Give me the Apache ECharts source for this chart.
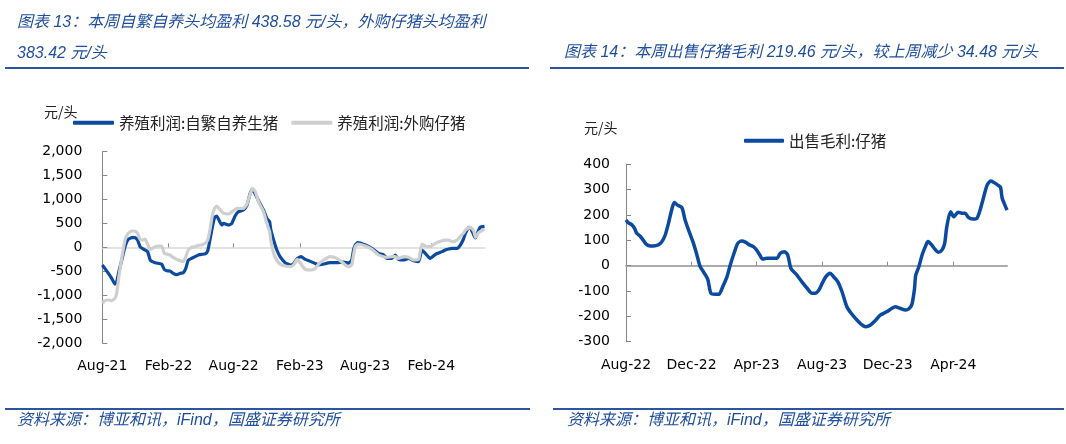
<!DOCTYPE html>
<html>
<head>
<meta charset="utf-8">
<script src="https://cdn.jsdelivr.net/npm/echarts@6/dist/echarts.min.js"></script>
<style>
  html, body { margin: 0; padding: 0; background: #fff; }
  #wrap { position: relative; width: 1066px; height: 444px; overflow: hidden; background: #fff; }
  #chart { position: absolute; left: 0; top: 0; width: 1066px; height: 444px; }
  .t { position: absolute; font-family: "Liberation Sans", "Noto Sans CJK SC", sans-serif; font-style: italic;
       color: #1F4E9E; font-size: 16px; line-height: 20px; white-space: nowrap; }
  .f { position: absolute; font-family: "Liberation Sans", "Noto Sans CJK SC", sans-serif; font-style: italic;
       color: #1F4E9E; font-size: 16px; line-height: 18px; white-space: nowrap; }
  .rule { position: absolute; height: 2px; background: #2C559C; }
</style>
</head>
<body>
<div id="wrap">
  <div id="chart"></div>
  <div class="t" style="left:17px;top:12px;">图表 13：本周自繁自养头均盈利 438.58 元/头，外购仔猪头均盈利</div>
  <div class="t" style="left:17px;top:43px;">383.42 元/头</div>
  <div class="t" style="left:564px;top:42px;">图表 14：本周出售仔猪毛利 219.46 元/头，较上周减少 34.48 元/头</div>
  <div class="rule" style="left:5px;top:67px;width:524px;"></div>
  <div class="rule" style="left:550px;top:67px;width:514px;"></div>
  <div class="rule" style="left:5px;top:408px;width:525px;"></div>
  <div class="rule" style="left:553px;top:408px;width:511px;"></div>
  <div class="f" style="left:17px;top:411px;">资料来源：博亚和讯，iFind，国盛证券研究所</div>
  <div class="f" style="left:567px;top:411px;">资料来源：博亚和讯，iFind，国盛证券研究所</div>
</div>
<script>
// ---------------- Data: left chart (养殖利润, 元/头) ----------------
const leftDates = [
 '2021-08-01','2021-08-08','2021-08-18','2021-08-27','2021-09-05','2021-09-10','2021-09-16','2021-09-24',
 '2021-10-03','2021-10-12','2021-10-22','2021-10-31','2021-11-07','2021-11-14','2021-11-21','2021-11-28',
 '2021-12-05','2021-12-12','2021-12-18','2021-12-26','2022-01-04','2022-01-13','2022-01-20','2022-01-27',
 '2022-02-05','2022-02-14','2022-02-24','2022-03-05','2022-03-14','2022-03-21','2022-03-28','2022-04-06',
 '2022-04-16','2022-04-25','2022-05-04','2022-05-14','2022-05-21','2022-05-27','2022-06-03','2022-06-09',
 '2022-06-15','2022-06-21','2022-06-29','2022-07-04','2022-07-18','2022-07-27','2022-08-05','2022-08-14',
 '2022-08-28','2022-09-07','2022-09-16','2022-09-22','2022-09-30','2022-10-09','2022-10-23','2022-11-01',
 '2022-11-09','2022-11-12','2022-11-20','2022-11-29','2022-12-08','2022-12-22','2023-01-05','2023-01-14',
 '2023-01-25','2023-02-04','2023-02-16','2023-03-02','2023-03-15','2023-03-25','2023-04-08','2023-04-26',
 '2023-05-15','2023-06-02','2023-06-16','2023-06-25','2023-06-30','2023-07-05','2023-07-12','2023-08-02',
 '2023-08-20','2023-09-08','2023-09-22','2023-10-01','2023-10-15','2023-10-24','2023-11-02','2023-11-16',
 '2023-11-30','2023-12-14','2023-12-28','2024-01-06','2024-01-15','2024-01-29','2024-02-12','2024-03-02',
 '2024-03-11','2024-03-20','2024-03-30','2024-04-13','2024-04-22','2024-05-01','2024-05-06','2024-05-15',
 '2024-05-20','2024-05-29','2024-06-03','2024-06-10','2024-06-16','2024-06-28'
];
const selfBredProfit = [
 -369,-439,-544,-648,-767,-718,-509,-265,
 14,167,202,202,153,14,-28,-56,
 -91,-265,-300,-321,-335,-349,-460,-488,
 -495,-544,-572,-544,-530,-439,-265,-230,
 -195,-160,-146,-139,-70,153,432,627,
 655,572,467,502,467,502,655,746,
 781,885,1129,1213,1115,976,781,606,
 537,376,153,-56,-195,-321,-369,-349,
 -230,-195,-251,-293,-335,-369,-349,-321,
 -321,-307,-330,-265,-56,49,98,49,
 -21,-125,-160,-230,-230,-160,-251,-265,
 -230,-279,-300,-56,-120,-230,-150,-90,
 -56,-35,-21,-21,49,180,293,418,
 410,260,200,330,420,439
];
const purchasedPigletProfit = [
 -1171,-1115,-1101,-1115,-1066,-962,-613,-230,
 153,293,342,335,293,167,153,174,
 70,-42,-21,14,28,28,-125,-139,
 -160,-209,-251,-279,-300,-195,-56,0,
 14,42,49,84,153,362,676,815,
 864,815,746,711,697,746,795,815,
 815,906,1115,1234,1164,955,746,502,
 328,153,-125,-279,-349,-390,-404,-369,
 -251,-349,-460,-474,-446,-349,-265,-195,
 -230,-335,-410,-369,-160,14,70,28,
 -42,-160,-195,-209,-195,-195,-230,-195,
 -209,-265,-251,70,28,14,84,139,
 150,153,118,153,230,300,360,410,
 418,348,209,293,330,383
];
const leftSeriesNames = ['养殖利润:自繁自养生猪', '养殖利润:外购仔猪'];
const leftTickDates = ['2021-08-01','2022-02-01','2022-08-01','2023-02-01','2023-08-01','2024-02-01'];
const leftTickLabels = ['Aug-21','Feb-22','Aug-22','Feb-23','Aug-23','Feb-24'];

// ---------------- Data: right chart (出售毛利:仔猪, 元/头) ----------------
const rightDates = [
 '2022-08-01','2022-08-05','2022-08-12','2022-08-17','2022-08-21','2022-08-27','2022-09-02','2022-09-08',
 '2022-09-15','2022-09-21','2022-09-30','2022-10-06','2022-10-13','2022-10-19','2022-10-25','2022-10-30',
 '2022-11-05','2022-11-13','2022-11-19','2022-11-26','2022-12-04','2022-12-11','2022-12-17','2022-12-23',
 '2022-12-31','2023-01-06','2023-01-14','2023-01-21','2023-01-28','2023-02-05','2023-02-11','2023-02-19',
 '2023-02-25','2023-03-04','2023-03-12','2023-03-17','2023-03-26','2023-04-01','2023-04-07','2023-04-12',
 '2023-04-20','2023-04-29','2023-05-09','2023-05-15','2023-05-23','2023-05-29','2023-06-04','2023-06-15',
 '2023-06-24','2023-07-04','2023-07-13','2023-07-19','2023-07-26','2023-08-01','2023-08-08','2023-08-16',
 '2023-08-22','2023-08-30','2023-09-07','2023-09-16','2023-09-24','2023-10-02','2023-10-11','2023-10-21',
 '2023-10-30','2023-11-09','2023-11-17','2023-11-29','2023-12-09','2023-12-15','2023-12-24','2024-01-03',
 '2024-01-09','2024-01-15','2024-01-20','2024-01-22','2024-01-28','2024-02-03','2024-02-09','2024-02-14',
 '2024-02-20','2024-02-28','2024-03-04','2024-03-11','2024-03-16','2024-03-20','2024-03-27','2024-04-02',
 '2024-04-10','2024-04-17','2024-04-23','2024-04-29','2024-05-07','2024-05-15','2024-05-21','2024-05-27',
 '2024-06-03','2024-06-10','2024-06-15','2024-06-23','2024-06-28','2024-07-01','2024-07-06','2024-07-10'
];
const pigletGrossProfit = [
 180,170,161,147,128,117,101,84,
 78,78,82,92,121,167,220,249,
 239,229,180,137,92,42,-4,-24,
 -53,-109,-113,-113,-83,-43,3,55,
 88,97,92,84,75,62,42,26,
 29,29,29,49,55,42,-11,-37,
 -63,-89,-109,-109,-96,-70,-43,-30,
 -43,-63,-103,-162,-188,-208,-228,-241,
 -234,-214,-195,-182,-168,-162,-168,-175,
 -171,-153,-89,-39,-4,42,75,95,
 84,62,53,62,88,154,213,193,
 211,207,207,191,184,187,220,266,
 318,334,329,318,309,266,240,219
];
const rightSeriesName = '出售毛利:仔猪';
const rightTickDates = ['2022-08-01','2022-12-01','2023-04-01','2023-08-01','2023-12-01','2024-04-01'];
const rightTickLabels = ['Aug-22','Dec-22','Apr-23','Aug-23','Dec-23','Apr-24'];

// ---------------- Build chart ----------------
const T = s => Date.parse(s + 'T00:00:00Z');
const pairs = (ds, vs) => ds.map((d, i) => [T(d), vs[i]]);
const labelMap = (ds, ls) => { const m = {}; ds.forEach((d, i) => { m[T(d)] = ls[i]; }); return m; };
const lMap = labelMap(leftTickDates, leftTickLabels);
const rMap = labelMap(rightTickDates, rightTickLabels);

const BLUE = '#0B4A9F';
const GRAY = '#CFCFCF';
const labelFont = { fontFamily: 'DejaVu Sans', fontSize: 14, color: '#000' };
const cjk = '"Noto Sans CJK SC", sans-serif';

function labelAxis(grid, ds, map, min, max, margin) {
  return {
    type: 'value', gridIndex: grid, position: 'bottom', min: T(min), max: T(max), scale: true,
    axisLine: { show: false, onZero: false }, axisTick: { show: false }, splitLine: { show: false },
    axisLabel: Object.assign({ customValues: ds.map(T), formatter: v => map[v] || '', margin: margin,
      hideOverlap: false }, labelFont)
  };
}
function zeroAxis(grid, ds, min, max, color, width) {
  return {
    type: 'value', gridIndex: grid, position: 'bottom', min: T(min), max: T(max), scale: true,
    axisLine: { show: true, onZero: true, lineStyle: { color: color, width: width } },
    axisTick: { show: true, inside: true, length: 4, customValues: ds.map(T), lineStyle: { color: '#8C8C8C', width: 1 } },
    axisLabel: { show: false }, splitLine: { show: false }
  };
}
function valAxis(grid, min, max, interval, margin) {
  return {
    type: 'value', gridIndex: grid, min: min, max: max, interval: interval,
    axisLine: { show: true, onZero: false, lineStyle: { color: '#868686', width: 1 } },
    axisTick: { show: true, inside: true, length: 5, lineStyle: { color: '#868686' } },
    splitLine: { show: false },
    axisLabel: Object.assign({ margin: margin, formatter: v => v.toLocaleString('en-US') }, labelFont)
  };
}

const chart = echarts.init(document.getElementById('chart'), null, { renderer: 'canvas' });
chart.setOption({
  animation: false,
  backgroundColor: 'transparent',
  grid: [
    { left: 102.3, top: 151.7, width: 382.2, height: 191.3 },
    { left: 626, top: 164.3, width: 381, height: 177.4 }
  ],
  xAxis: [
    labelAxis(0, leftTickDates, lMap, '2021-08-01', '2024-06-28', 16),
    zeroAxis(0, leftTickDates, '2021-08-01', '2024-06-28', '#D9D9D9', 1.5),
    labelAxis(1, rightTickDates, rMap, '2022-08-01', '2024-07-10', 17),
    zeroAxis(1, rightTickDates, '2022-08-01', '2024-07-10', '#ABABAB', 2)
  ],
  yAxis: [
    valAxis(0, -2000, 2000, 500, 20),
    valAxis(1, -300, 400, 100, 16)
  ],
  legend: [
    { left: 68, top: 110, itemWidth: 41, itemHeight: 4, itemGap: 13, icon: 'roundRect',
      textStyle: { fontFamily: cjk, fontSize: 15.5, color: '#222' },
      data: leftSeriesNames },
    { left: 739, top: 128, itemWidth: 40, itemHeight: 4, itemGap: 12, icon: 'roundRect',
      textStyle: { fontFamily: cjk, fontSize: 15.5, color: '#222' },
      data: [rightSeriesName] }
  ],
  graphic: [
    { type: 'text', left: 44, top: 105, silent: true,
      style: { text: '元/头', fontFamily: cjk, fontSize: 14, fill: '#222' } },
    { type: 'text', left: 584, top: 121, silent: true,
      style: { text: '元/头', fontFamily: cjk, fontSize: 14, fill: '#222' } }
  ],
  series: [
    { name: leftSeriesNames[0], type: 'line', xAxisIndex: 0, yAxisIndex: 0, showSymbol: false, smooth: 0.15,
      data: pairs(leftDates, selfBredProfit), lineStyle: { color: BLUE, width: 3.2 }, itemStyle: { color: BLUE } },
    { name: leftSeriesNames[1], type: 'line', xAxisIndex: 0, yAxisIndex: 0, showSymbol: false, smooth: 0.15,
      data: pairs(leftDates, purchasedPigletProfit), lineStyle: { color: GRAY, width: 3.2 }, itemStyle: { color: GRAY } },
    { name: rightSeriesName, type: 'line', xAxisIndex: 2, yAxisIndex: 1, showSymbol: false, smooth: 0.25,
      data: pairs(rightDates, pigletGrossProfit), lineStyle: { color: BLUE, width: 3.5 }, itemStyle: { color: BLUE } }
  ]
});
</script>
</body>
</html>
